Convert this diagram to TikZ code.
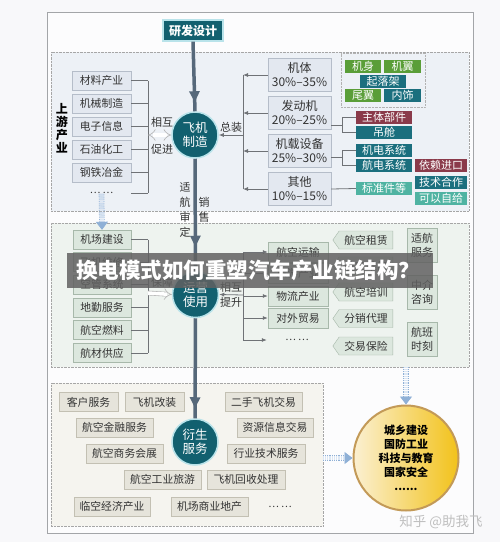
\documentclass[tikz,border=0pt]{standalone}
\usepackage{fontspec}
\setmainfont{Noto Sans CJK SC}
\usetikzlibrary{arrows.meta}
\usetikzlibrary{shapes.symbols}
\usetikzlibrary{decorations.markings}

\definecolor{pagebg}{HTML}{F8F8FA}
\definecolor{framegray}{HTML}{A3A5A8}
\definecolor{hubteal}{HTML}{12606F}
\definecolor{hubring}{HTML}{B9E3EA}
\definecolor{stemgray}{HTML}{56687A}
\definecolor{linkgray}{HTML}{6F7276}
\definecolor{textgray}{HTML}{333333}
\definecolor{partgreen}{HTML}{5A9E38}
\definecolor{partteal}{HTML}{1B6F7E}
\definecolor{partred}{HTML}{8A3A4A}
\definecolor{partmint}{HTML}{4FB3A2}
\definecolor{upfill}{HTML}{EDF1F6}
\definecolor{upboxfill}{HTML}{E3E8F0}
\definecolor{upline}{HTML}{B5BDC9}
\definecolor{midfill}{HTML}{EEF3EF}
\definecolor{midboxfill}{HTML}{DCE7DE}
\definecolor{midline}{HTML}{A7B8AA}
\definecolor{derfill}{HTML}{F5F4EF}
\definecolor{derboxfill}{HTML}{E6E4DB}
\definecolor{derline}{HTML}{C3C0B3}
\definecolor{flowblue}{HTML}{8FB0D6}
\definecolor{flowfill}{HTML}{DCE7F4}
\definecolor{goldlight}{HTML}{FBF0D2}
\definecolor{golddeep}{HTML}{F2C21A}
\definecolor{goldring}{HTML}{C39A58}

\tikzset{
    section/.style={draw=gray!70, densely dotted, inner sep=0},
    hub/.style={circle, fill=hubteal, draw=hubring, line width=1.5, text=white,
        minimum size=46, inner sep=0, align=center, font=\fontsize{12.5}{14}\selectfont},
    upbox/.style={draw=upline, fill=upboxfill, minimum width=59, minimum height=19,
        inner sep=0, text=textgray, font=\fontsize{10.8}{13}\selectfont},
    sharebox/.style={draw=upline, fill=upboxfill, minimum width=63, minimum height=33,
        inner sep=0, align=center, text=textgray, font=\fontsize{12}{14}\selectfont},
    partbox/.style={fill=#1, text=white, minimum height=13, inner sep=0,
        font=\fontsize{11}{13}\selectfont},
    midbox/.style={draw=midline, fill=midboxfill, minimum width=58, minimum height=19,
        inner sep=0, text=textgray, font=\fontsize{10.8}{13}\selectfont},
    sigbox/.style={signal, signal to=west, signal pointer angle=110, draw=midline,
        fill=midboxfill, minimum width=60, minimum height=18, inner sep=0,
        text=textgray, font=\fontsize{10.8}{13}\selectfont},
    tallbox/.style={draw=midline, fill=midboxfill, minimum width=30, minimum height=34,
        inner sep=0, align=center, text=textgray, font=\fontsize{11}{14}\selectfont},
    derbox/.style={draw=derline, fill=derboxfill, minimum width=#1, minimum height=19,
        inner sep=0, text=textgray, font=\fontsize{10.8}{13}\selectfont},
    derbox/.default=77,
    link/.style={draw=linkgray, line width=0.8},
    tip/.style={-{Latex[length=5pt,width=4pt]}},
    hollow/.style={draw=gray!60, line width=0.6, double=white, double distance=3.5pt},
    flow/.style={draw=flowblue, densely dotted, line width=0.8, double=flowfill,
        double distance=4pt, -{Triangle[length=8pt,width=12pt,fill=flowblue]}},
    stem/.style={draw=stemgray, line width=3.5, postaction={decorate},
        decoration={markings, mark=at position #1 with {\arrow{Triangle[length=11pt,width=10pt]}}}},
    lbl/.style={inner sep=0, text=textgray, font=\fontsize{11}{15}\selectfont, align=center}
}

\begin{document}
\begin{tikzpicture}[x=1pt, y=-1pt]
    \fill[pagebg] (0,0) rectangle (500,542);
    \useasboundingbox (0,0) rectangle (500,542);
    \draw[framegray, fill=white!60!pagebg] (47,12) rectangle (473,533);
    % sections
    \node[section, fill=upfill, minimum width=418, minimum height=159] (s1) at (260,131.5) {};
    \node[section, fill=midfill, minimum width=418, minimum height=144] (s2) at (260,295) {};
    \node[section, fill=derfill, minimum width=272, minimum height=143] (s3) at (187,454.5) {};
    % main chain
    \node[fill=hubteal, draw=hubring, line width=1.2, text=white, minimum width=60,
        minimum height=21, font=\fontsize{12}{13}\selectfont\bfseries] (0) at (193,30.5) {研发设计};
    \node[hub] (1) at (195,135) {飞机\\制造};
    \node[hub] (2) at (195.5,294.5) {运营\\使用};
    \node[hub] (3) at (195,442) {衍生\\服务};
    \node[circle, draw=goldring, line width=2, left color=goldlight, right color=golddeep,
        minimum size=105, inner sep=0, align=center,
        font=\fontsize{11}{14}\selectfont\bfseries] (4) at (406,458)
        {城乡建设\\国防工业\\科技与教育\\国家安全\\......};
    \draw[stem=-9pt] (0.south) to (1.north);
    \draw[stem=-24pt] (1.south) to (2.north);
    \draw[stem=-10pt] (2.south) to (3.north);
    \node[lbl] (5) at (185,210) {适\\航\\审\\定};
    \node[lbl] (6) at (204,210) {销\\售};

    % upstream
    \node[inner sep=0, align=center, font=\fontsize{12}{13}\selectfont\bfseries] (7) at (62,128) {上\\游\\产\\业};
    \node[upbox] (10) at (101.5,80.5) {材料产业};
    \node[upbox] (11) at (101.5,103.5) {机械制造};
    \node[upbox] (12) at (101.5,126.5) {电子信息};
    \node[upbox] (13) at (101.5,149.5) {石油化工};
    \node[upbox] (14) at (101.5,172.5) {钢铁冶金};
    \node[minimum width=59, inner sep=0, text=textgray, font=\fontsize{10}{12}\selectfont] (15) at (101.5,193) {… …};
    \coordinate (16) at (148,80.5);
    \coordinate (17) at (148,193);
    \coordinate (18) at (148,135);
    \draw[link] (10.east) to (10.east -| 16);
    \draw[link] (11.east) to (11.east -| 16);
    \draw[link] (12.east) to (12.east -| 16);
    \draw[link] (13.east) to (13.east -| 16);
    \draw[link] (14.east) to (14.east -| 16);
    \draw[link] (15.east) to (17);
    \draw[link] (16) to (17);
    \draw[hollow, {Implies}-{Implies}] (18) to (1.west);
    \node[lbl] (8) at (162,122) {相互};
    \node[lbl] (9) at (162,149) {促进};

    % shares of the aircraft
    \node[sharebox] (20) at (299.5,75) {机体\\30\%–35\%};
    \node[sharebox] (21) at (299.5,113) {发动机\\20\%–25\%};
    \node[sharebox] (22) at (299.5,151) {机载设备\\25\%–30\%};
    \node[sharebox] (23) at (299.5,189) {其他\\10\%–15\%};
    \coordinate (24) at (243,75);
    \coordinate (25) at (243,189);
    \coordinate (26) at (243,135);
    \draw[link, tip] (20.west) to (20.west -| 24);
    \draw[link, tip] (21.west) to (21.west -| 24);
    \draw[link, tip] (22.west) to (22.west -| 24);
    \draw[link, tip] (23.west) to (23.west -| 24);
    \draw[link] (24) to (25);
    \draw[link, tip] (26) to (1.east);
    \node[lbl] (27) at (231,127) {总装};

    % parts
    \node[draw=gray!60, densely dotted, minimum width=84, minimum height=54] (29) at (383,80) {};
    \node[partbox=partgreen, minimum width=36] (30) at (363,66.5) {机身};
    \node[partbox=partgreen, minimum width=37] (31) at (402.5,66.5) {机翼};
    \node[partbox=partteal, minimum width=46] (32) at (383,81.5) {起落架};
    \node[partbox=partgreen, minimum width=36] (33) at (363,95.5) {尾翼};
    \node[partbox=partteal, minimum width=37] (34) at (402.5,95.5) {内饰};
    \node[partbox=partred, minimum width=56] (35) at (384,117) {主体部件};
    \node[partbox=partteal, minimum width=56] (36) at (384,132.5) {吊舱};
    \node[partbox=partteal, minimum width=56] (37) at (384,150.5) {机电系统};
    \node[partbox=partteal, minimum width=56] (38) at (384,165.5) {航电系统};
    \node[partbox=partmint, minimum width=56] (39) at (384,188.5) {标准件等};
    \node[partbox=partred, minimum width=52] (40) at (441,165.5) {依赖进口};
    \node[partbox=partteal, minimum width=52] (41) at (441,182.5) {技术合作};
    \node[partbox=partmint, minimum width=52] (42) at (441,198.5) {可以自给};
    \coordinate (43) at (342,125);
    \coordinate (44) at (342,157.5);
    \draw[link] (21.east |- 43) to (43);
    \draw[link] (35.west) -- (35.west -| 43) -- (36.west -| 43) -- (36.west);
    \draw[link] (22.east |- 44) to (44);
    \draw[link] (37.west) -- (37.west -| 44) -- (38.west -| 44) -- (38.west);
    \draw[link] (23.east) to (39.west);

    % operation
    \node[midbox] (50) at (102,239.5) {机场建设};
    \node[midbox] (51) at (102,262) {飞机维修};
    \node[midbox] (52) at (102,284.5) {空管系统};
    \node[midbox] (53) at (102,307.5) {地勤服务};
    \node[midbox] (54) at (102,330) {航空燃料};
    \node[midbox] (55) at (102,353) {航材供应};
    \coordinate (56) at (148,239.5);
    \coordinate (57) at (148,353);
    \coordinate (58) at (148,293);
    \draw[link] (50.east) to (50.east -| 56);
    \draw[link] (51.east) to (51.east -| 56);
    \draw[link] (52.east) to (52.east -| 56);
    \draw[link] (53.east) to (53.east -| 56);
    \draw[link] (54.east) to (54.east -| 56);
    \draw[link] (55.east) to (55.east -| 56);
    \draw[link] (56) to (57);
    \draw[hollow, -{Implies}] (58) to (2.west);
    \node[lbl] (59) at (162,282) {保障};
    \draw[flow] (15.south) to (50.north);

    \node[midbox, minimum width=60, minimum height=20] (60) at (298,252) {航空运输};
    \node[midbox, minimum width=60, minimum height=20] (61) at (298,273.5) {旅游产业};
    \node[midbox, minimum width=60, minimum height=20] (62) at (298,296) {物流产业};
    \node[midbox, minimum width=60, minimum height=20] (63) at (298,318) {对外贸易};
    \node[minimum width=60, inner sep=0, text=textgray, font=\fontsize{10}{12}\selectfont] (64) at (297,340) {… …};
    \coordinate (65) at (243,252);
    \coordinate (66) at (243,340);
    \coordinate (67) at (243,295);
    \draw[link, tip] (60.west -| 65) to (60.west);
    \draw[link, tip] (61.west -| 65) to (61.west);
    \draw[link, tip] (62.west -| 65) to (62.west);
    \draw[link, tip] (63.west -| 65) to (63.west);
    \draw[link, tip] (66) to (64.west);
    \draw[link] (65) to (66);
    \draw[link, tip] (67) to (2.east);
    \node[lbl] (68) at (231,287) {相互};
    \node[lbl] (69) at (231,302) {提升};

    \node[sigbox] (70) at (366,240) {航空租赁};
    \node[sigbox] (71) at (366,266) {航空维修};
    \node[sigbox] (72) at (366,292) {航空培训};
    \node[sigbox] (73) at (366,318.5) {分销代理};
    \node[sigbox] (74) at (366,346) {交易保险};
    \node[tallbox] (75) at (422,245) {适航\\服务};
    \node[tallbox] (76) at (422,292.5) {中介\\咨询};
    \node[tallbox] (77) at (422,339.5) {航班\\时刻};

    % derived services
    \node[derbox=59] (80) at (88.5,402) {客户服务};
    \node[derbox=59] (81) at (154.5,402) {飞机改装};
    \node[derbox] (82) at (114.5,427.5) {航空金融服务};
    \node[derbox] (83) at (124.5,453.5) {航空商务会展};
    \node[derbox] (84) at (162.5,479.5) {航空工业旅游};
    \node[derbox=76] (85) at (112,506.5) {临空经济产业};
    \node[derbox] (86) at (209.5,506.5) {机场商业地产};
    \node[derbox] (87) at (263.5,402) {二手飞机交易};
    \node[derbox=76] (88) at (275,427.5) {资源信息交易};
    \node[derbox=78] (89) at (266,453.5) {行业技术服务};
    \node[derbox=78] (90) at (246,479.5) {飞机回收处理};
    \node[inner sep=0, text=textgray, font=\fontsize{10}{12}\selectfont] (91) at (280,507) {… …};
    \draw[flow] (s2.south -| 4) to (4.north);
    \draw[flow] (s3.east |- 4) to (4.west);

    % overlay
    \node[fill=black!62, fill opacity=0.85, minimum width=366, minimum height=35, inner sep=0] (98) at (250,270.5) {};
    \node[anchor=west, inner sep=0, text=white, font=\fontsize{21.5}{24}\selectfont\bfseries] (99) at (76,270.5) {换电模式如何重塑汽车产业链结构？};
    \node[inner sep=0, text=black!25, font=\fontsize{13.5}{15}\selectfont] (97) at (441,522) {知乎 @助我飞};
\end{tikzpicture}
\end{document}
